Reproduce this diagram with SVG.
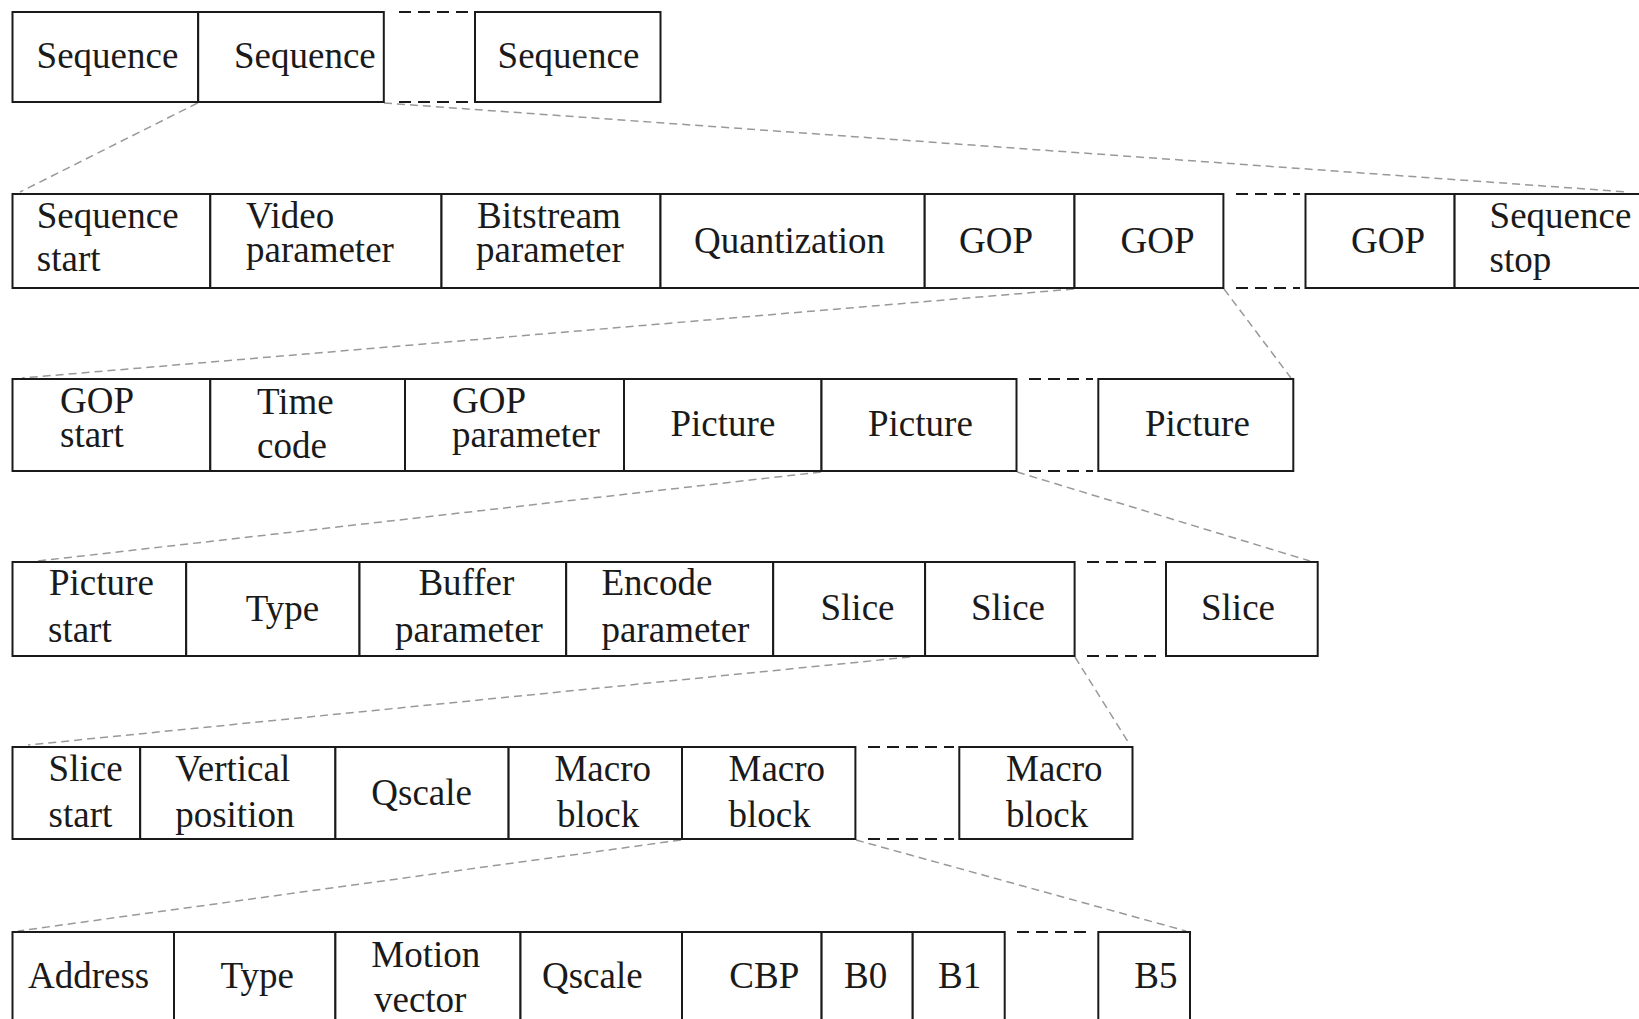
<svg xmlns="http://www.w3.org/2000/svg" width="1639" height="1019" viewBox="0 0 1639 1019">
<defs>
<style>
.b{fill:#fff;stroke:#1a1a1a;stroke-width:2}
.t{font-family:"Liberation Serif","Times New Roman",serif;font-size:37px;fill:#1a1a1a}
.g{stroke:#1a1a1a;stroke-width:2.2;stroke-dasharray:12 7;fill:none}
.c{stroke:#999;stroke-width:1.5;stroke-dasharray:8 5;fill:none}
</style>
</defs>
<rect width="1639" height="1019" fill="#fff"/>
<g id="connectors">
<line class="c" x1="197.6" y1="103" x2="20" y2="192"/>
<line class="c" x1="384" y1="103" x2="1628" y2="192"/>
<line class="c" x1="1074" y1="289" x2="22" y2="378"/>
<line class="c" x1="1224" y1="289" x2="1291" y2="378"/>
<line class="c" x1="821" y1="472" x2="38" y2="561"/>
<line class="c" x1="1017" y1="472" x2="1310" y2="561"/>
<line class="c" x1="910" y1="657" x2="28" y2="745"/>
<line class="c" x1="1075" y1="657" x2="1130" y2="745"/>
<line class="c" x1="681" y1="840" x2="18" y2="931"/>
<line class="c" x1="856" y1="840" x2="1186" y2="931"/>
</g>
<g id="gaps">
<line class="g" x1="399" y1="12" x2="468" y2="12"/><line class="g" x1="399" y1="102" x2="468" y2="102"/>
<line class="g" x1="1236" y1="194" x2="1300" y2="194"/><line class="g" x1="1236" y1="288" x2="1300" y2="288"/>
<line class="g" x1="1029" y1="379" x2="1093" y2="379"/><line class="g" x1="1029" y1="471" x2="1093" y2="471"/>
<line class="g" x1="1087" y1="562" x2="1161" y2="562"/><line class="g" x1="1087" y1="656" x2="1161" y2="656"/>
<line class="g" x1="868" y1="747" x2="954" y2="747"/><line class="g" x1="868" y1="839" x2="954" y2="839"/>
<line class="g" x1="1017" y1="932" x2="1093" y2="932"/>
</g>
<g id="row1">
<g id="seq1"><rect class="b" x="12.5" y="12" width="185.7" height="90"/><text class="t" x="36.6" y="68">Sequence</text></g>
<g id="seq2"><rect class="b" x="198.2" y="12" width="185.6" height="90"/><text class="t" x="234" y="68">Sequence</text></g>
<g id="seq3"><rect class="b" x="475" y="12" width="185.5" height="90"/><text class="t" x="497.6" y="68">Sequence</text></g>
</g>
<g id="row2">
<g id="seqstart"><rect class="b" x="12.5" y="194" width="197.8" height="94"/><text class="t" x="36.8" y="228">Sequence</text><text class="t" x="36.8" y="271">start</text></g>
<g id="videoparam"><rect class="b" x="210.3" y="194" width="231.2" height="94"/><text class="t" x="246" y="228">Video</text><text class="t" x="246" y="262">parameter</text></g>
<g id="bitparam"><rect class="b" x="441.5" y="194" width="219" height="94"/><text class="t" x="477" y="228">Bitstream</text><text class="t" x="476" y="262">parameter</text></g>
<g id="quant"><rect class="b" x="660.5" y="194" width="264.2" height="94"/><text class="t" x="694" y="253">Quantization</text></g>
<g id="gop1"><rect class="b" x="924.7" y="194" width="149.8" height="94"/><text class="t" x="959" y="253">GOP</text></g>
<g id="gop2"><rect class="b" x="1074.5" y="194" width="148.9" height="94"/><text class="t" x="1120.5" y="253">GOP</text></g>
<g id="gop3"><rect class="b" x="1305.5" y="194" width="149.1" height="94"/><text class="t" x="1351" y="253">GOP</text></g>
<g id="seqstop"><rect class="b" x="1454.6" y="194" width="200" height="94"/><text class="t" x="1489.6" y="228">Sequence</text><text class="t" x="1489.6" y="272">stop</text></g>
</g>
<g id="row3">
<g id="gopstart"><rect class="b" x="12.5" y="379" width="197.8" height="92"/><text class="t" x="60" y="413">GOP</text><text class="t" x="60" y="447">start</text></g>
<g id="timecode"><rect class="b" x="210.3" y="379" width="194.7" height="92"/><text class="t" x="257" y="414">Time</text><text class="t" x="257" y="458">code</text></g>
<g id="gopparam"><rect class="b" x="405" y="379" width="219" height="92"/><text class="t" x="452" y="413">GOP</text><text class="t" x="452" y="447">parameter</text></g>
<g id="pic1"><rect class="b" x="624" y="379" width="197.5" height="92"/><text class="t" x="670.5" y="436">Picture</text></g>
<g id="pic2"><rect class="b" x="821.5" y="379" width="195" height="92"/><text class="t" x="868" y="436">Picture</text></g>
<g id="pic3"><rect class="b" x="1098.3" y="379" width="195" height="92"/><text class="t" x="1145" y="436">Picture</text></g>
</g>
<g id="row4">
<g id="picstart"><rect class="b" x="12.5" y="562" width="173.7" height="94"/><text class="t" x="49" y="595">Picture</text><text class="t" x="48" y="642">start</text></g>
<g id="ptype"><rect class="b" x="186.2" y="562" width="173.3" height="94"/><text class="t" x="245.8" y="621">Type</text></g>
<g id="bufparam"><rect class="b" x="359.5" y="562" width="206.7" height="94"/><text class="t" x="418.4" y="595">Buffer</text><text class="t" x="395" y="642">parameter</text></g>
<g id="encparam"><rect class="b" x="566.2" y="562" width="207" height="94"/><text class="t" x="601.5" y="595">Encode</text><text class="t" x="601.5" y="642">parameter</text></g>
<g id="slice1"><rect class="b" x="773.2" y="562" width="151.9" height="94"/><text class="t" x="820.5" y="620">Slice</text></g>
<g id="slice2"><rect class="b" x="925.1" y="562" width="149.5" height="94"/><text class="t" x="971" y="620">Slice</text></g>
<g id="slice3"><rect class="b" x="1166" y="562" width="151.7" height="94"/><text class="t" x="1201" y="620">Slice</text></g>
</g>
<g id="row5">
<g id="slicestart"><rect class="b" x="12.5" y="747" width="127.7" height="92"/><text class="t" x="48.6" y="781">Slice</text><text class="t" x="48.6" y="827">start</text></g>
<g id="vpos"><rect class="b" x="140.2" y="747" width="195.2" height="92"/><text class="t" x="175.2" y="781">Vertical</text><text class="t" x="175.2" y="827">position</text></g>
<g id="qscale1"><rect class="b" x="335.4" y="747" width="173.2" height="92"/><text class="t" x="371.3" y="805">Qscale</text></g>
<g id="mb1"><rect class="b" x="508.6" y="747" width="173.4" height="92"/><text class="t" x="554.4" y="781">Macro</text><text class="t" x="557" y="827">block</text></g>
<g id="mb2"><rect class="b" x="682" y="747" width="173.4" height="92"/><text class="t" x="728.5" y="781">Macro</text><text class="t" x="728.5" y="827">block</text></g>
<g id="mb3"><rect class="b" x="959.3" y="747" width="173.2" height="92"/><text class="t" x="1006" y="781">Macro</text><text class="t" x="1006" y="827">block</text></g>
</g>
<g id="row6">
<g id="address"><rect class="b" x="12.5" y="932" width="161.5" height="100"/><text class="t" x="28" y="988">Address</text></g>
<g id="mtype"><rect class="b" x="174" y="932" width="161.4" height="100"/><text class="t" x="220.5" y="988">Type</text></g>
<g id="motion"><rect class="b" x="335.4" y="932" width="185.1" height="100"/><text class="t" x="371.3" y="967">Motion</text><text class="t" x="374" y="1012">vector</text></g>
<g id="qscale2"><rect class="b" x="520.5" y="932" width="161.5" height="100"/><text class="t" x="542" y="988">Qscale</text></g>
<g id="cbp"><rect class="b" x="682" y="932" width="139.6" height="100"/><text class="t" x="729.3" y="988">CBP</text></g>
<g id="b0"><rect class="b" x="821.6" y="932" width="91.1" height="100"/><text class="t" x="844" y="988">B0</text></g>
<g id="b1"><rect class="b" x="912.7" y="932" width="92" height="100"/><text class="t" x="938" y="988">B1</text></g>
<g id="b5"><rect class="b" x="1098.3" y="932" width="91.7" height="100"/><text class="t" x="1134.3" y="988">B5</text></g>
</g>
</svg>
